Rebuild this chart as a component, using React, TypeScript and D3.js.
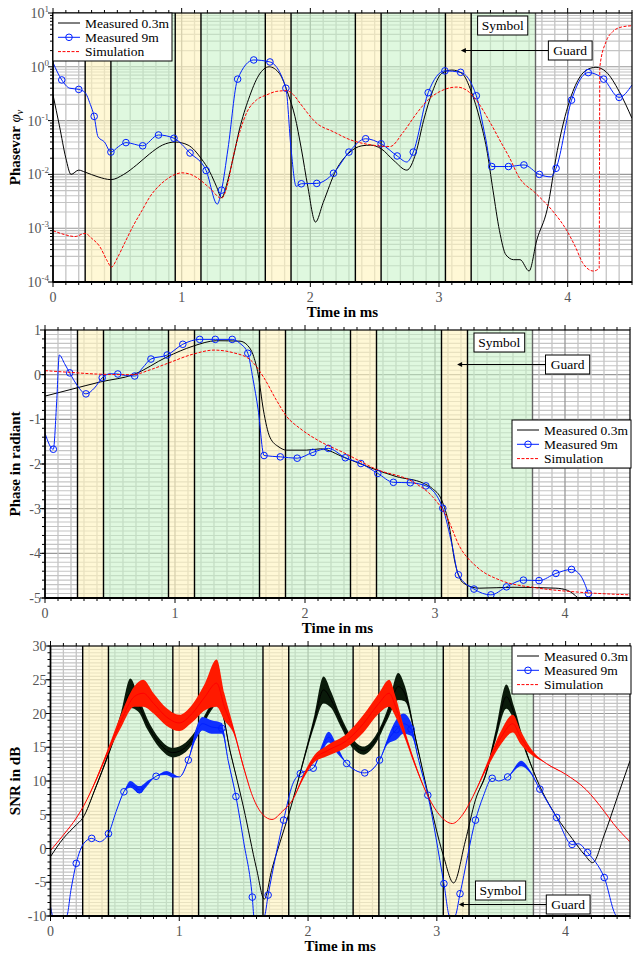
import React from "react";
import * as d3 from "d3";

const W = 633;
const H = 953;
const FONT = "'Liberation Serif', 'Times New Roman', serif";

// guard (yellow) and symbol (green) intervals in ms
const guardIntervals = [[0.25, 0.45], [0.95, 1.15], [1.65, 1.85], [2.35, 2.55], [3.05, 3.25]];
const symbolIntervals = [[0.45, 0.95], [1.15, 1.65], [1.85, 2.35], [2.55, 3.05], [3.25, 3.75]];
const xTicks = [0, 1, 2, 3, 4];
const legendNames = ["Measured 0.3m", "Measured 9m", "Simulation"];

// ---- panel 1: phase variance (log) ----  [t, value]
const pvBlack = [
  [0.0, 0.3], [0.05, 0.08], [0.1, 0.02], [0.14, 0.01], [0.2, 0.012], [0.25, 0.011], [0.35, 0.009],
  [0.45, 0.008], [0.55, 0.01], [0.65, 0.015], [0.75, 0.024], [0.85, 0.035], [0.95, 0.04], [1.05, 0.035],
  [1.15, 0.02], [1.22, 0.011], [1.27, 0.006], [1.31, 0.0037], [1.36, 0.008], [1.4, 0.02], [1.45, 0.07],
  [1.52, 0.25], [1.6, 0.7], [1.68, 1.0], [1.76, 0.75], [1.83, 0.3], [1.88, 0.12], [1.93, 0.03],
  [1.98, 0.006], [2.04, 0.0013], [2.1, 0.003], [2.2, 0.012], [2.3, 0.025], [2.4, 0.034], [2.47, 0.035],
  [2.55, 0.03], [2.65, 0.018], [2.75, 0.012], [2.82, 0.025], [2.88, 0.1], [2.95, 0.35], [3.02, 0.75],
  [3.1, 0.87], [3.18, 0.75], [3.25, 0.35], [3.32, 0.1], [3.37, 0.03], [3.42, 0.005], [3.47, 0.0009],
  [3.52, 0.00032], [3.58, 0.00026], [3.63, 0.00026], [3.7, 0.00016], [3.76, 0.0006], [3.84, 0.0022],
  [3.92, 0.028], [3.98, 0.12], [4.06, 0.45], [4.14, 0.85], [4.22, 0.98], [4.3, 0.8], [4.4, 0.35], [4.5, 0.11],
];
// [t, value, marker]
const pvBlue = [
  [0.0, 1.2, 0], [0.068, 0.57, 1], [0.13, 0.4, 0], [0.2, 0.38, 1], [0.25, 0.33, 0], [0.29, 0.2, 0],
  [0.32, 0.12, 1], [0.35, 0.05, 0], [0.4, 0.04, 0], [0.45, 0.026, 1], [0.51, 0.033, 0], [0.567, 0.039, 1],
  [0.697, 0.034, 1], [0.82, 0.054, 1], [0.94, 0.047, 1], [1.065, 0.025, 1], [1.19, 0.0118, 1],
  [1.277, 0.0028, 0], [1.31, 0.0051, 1], [1.36, 0.03, 0], [1.435, 0.59, 1], [1.56, 1.34, 1],
  [1.686, 1.23, 1], [1.81, 0.4, 1], [1.85, 0.03, 0], [1.89, 0.006, 0], [1.93, 0.0067, 1], [2.05, 0.0068, 1],
  [2.18, 0.0105, 1], [2.3, 0.026, 1], [2.43, 0.046, 1], [2.55, 0.037, 1], [2.675, 0.022, 1], [2.75, 0.017, 0],
  [2.8, 0.026, 1], [2.916, 0.33, 1], [3.046, 0.84, 1], [3.168, 0.79, 1], [3.29, 0.29, 1], [3.36, 0.05, 0],
  [3.41, 0.014, 1], [3.54, 0.014, 1], [3.66, 0.015, 1], [3.78, 0.01, 1], [3.87, 0.009, 0], [3.91, 0.013, 1],
  [4.03, 0.24, 1], [4.16, 0.78, 1], [4.28, 0.59, 1], [4.4, 0.27, 1], [4.5, 0.46, 0],
];
const pvRed = [
  [0.0, 0.0009], [0.1, 0.00075], [0.17, 0.0007], [0.25, 0.0008], [0.3, 0.00065], [0.365, 0.00045],
  [0.42, 0.00025], [0.455, 0.00019], [0.5, 0.00028], [0.56, 0.00055], [0.62, 0.00107], [0.69, 0.0021],
  [0.755, 0.0039], [0.82, 0.006], [0.88, 0.008], [0.95, 0.01], [1.0, 0.0107], [1.07, 0.01], [1.14, 0.008],
  [1.22, 0.0055], [1.31, 0.0036], [1.36, 0.007], [1.4, 0.021], [1.45, 0.06], [1.505, 0.14], [1.58, 0.24],
  [1.66, 0.3], [1.74, 0.35], [1.815, 0.36], [1.87, 0.3], [1.92, 0.21], [2.05, 0.089], [2.18, 0.062],
  [2.31, 0.044], [2.45, 0.036], [2.62, 0.033], [2.72, 0.06], [2.83, 0.14], [2.92, 0.25], [3.01, 0.35],
  [3.14, 0.42], [3.22, 0.36], [3.29, 0.24], [3.4, 0.09], [3.48, 0.04], [3.55, 0.02], [3.62, 0.009],
  [3.75, 0.0045], [3.89, 0.002], [3.99, 0.00093], [4.06, 0.00045], [4.12, 0.00022], [4.2, 0.00016],
  [4.245, 0.00018], [4.25, 1.0], [4.3, 3.0], [4.35, 4.5], [4.42, 5.5], [4.5, 5.8],
];

// ---- panel 2: phase in radiant ----
const phBlack = [
  [0.0, -0.48], [0.2, -0.33], [0.43, -0.16], [0.68, 0.0], [0.94, 0.4], [1.14, 0.64], [1.32, 0.76],
  [1.5, 0.75], [1.56, 0.65], [1.6, 0.45], [1.64, 0.0], [1.68, -0.79], [1.73, -1.4], [1.8, -1.62],
  [1.86, -1.69], [2.01, -1.69], [2.12, -1.66], [2.3, -1.85], [2.5, -2.08], [2.7, -2.28], [2.91, -2.43],
  [2.98, -2.55], [3.05, -2.8], [3.11, -3.4], [3.15, -4.15], [3.22, -4.67], [3.34, -4.78], [3.6, -4.76],
  [3.93, -4.78], [4.02, -4.83], [4.06, -4.9], [4.1, -5.0],
];
const phBlue = [
  [0.0, -1.31, 0], [0.064, -1.67, 1], [0.09, -0.6, 0], [0.11, 0.44, 0], [0.15, 0.25, 0], [0.19, 0.04, 1],
  [0.25, -0.25, 0], [0.315, -0.43, 1], [0.38, -0.3, 0], [0.44, -0.07, 1], [0.5, 0.02, 0], [0.56, 0.015, 1],
  [0.62, -0.02, 0], [0.69, -0.03, 1], [0.75, 0.15, 0], [0.815, 0.35, 1], [0.94, 0.44, 1], [1.06, 0.68, 1],
  [1.19, 0.79, 1], [1.31, 0.79, 1], [1.44, 0.79, 1], [1.5, 0.7, 0], [1.56, 0.48, 1], [1.6, -0.1, 0],
  [1.64, -0.79, 0], [1.685, -1.81, 1], [1.81, -1.84, 1], [1.94, -1.87, 1], [2.06, -1.74, 1],
  [2.18, -1.65, 1], [2.31, -1.86, 1], [2.43, -1.99, 1], [2.56, -2.21, 1], [2.68, -2.41, 1],
  [2.81, -2.42, 1], [2.93, -2.49, 1], [3.06, -2.99, 1], [3.13, -3.8, 0], [3.18, -4.48, 1], [3.3, -4.8, 1],
  [3.43, -4.93, 1], [3.55, -4.75, 1], [3.68, -4.6, 1], [3.8, -4.61, 1], [3.93, -4.45, 1], [4.05, -4.36, 1],
  [4.12, -4.5, 0], [4.18, -4.9, 1],
];
const phRed = [
  [0.0, 0.09], [0.2, 0.05], [0.43, 0.01], [0.68, 0.0], [0.8, 0.1], [0.94, 0.25], [1.14, 0.46], [1.3, 0.55],
  [1.45, 0.49], [1.58, 0.33], [1.68, -0.05], [1.78, -0.57], [1.86, -0.94], [1.96, -1.2], [2.1, -1.47],
  [2.3, -1.75], [2.55, -2.12], [2.83, -2.4], [2.98, -2.73], [3.09, -3.18], [3.19, -3.85], [3.32, -4.3],
  [3.5, -4.6], [3.8, -4.78], [4.11, -4.87], [4.5, -4.93],
];

// ---- panel 3: SNR in dB ----  [t, value, half width of the noise band]
const snrBlack = [
  [0.0, -1.2, 0], [0.1, 1.5, 0], [0.2, 3.5, 0], [0.25, 4.5, 0], [0.35, 9, 0.2], [0.45, 14, 0.3],
  [0.55, 19.5, 0.8], [0.62, 23, 2.2], [0.68, 21.5, 1.2], [0.75, 18.5, 0.8], [0.85, 15.5, 0.7],
  [0.95, 14.2, 0.7], [1.05, 15, 0.7], [1.15, 17.5, 0.6], [1.25, 21, 0.5], [1.3, 22, 0.5], [1.4, 14, 0.2],
  [1.5, 6, 0], [1.6, -3, 0], [1.66, -7.5, 0], [1.72, -3, 0], [1.8, 2, 0], [1.86, 5.7, 0], [1.95, 12, 0.3],
  [2.05, 19, 0.8], [2.12, 23.5, 2], [2.18, 22, 1.2], [2.25, 19, 0.8], [2.35, 15.5, 0.7], [2.43, 14.5, 0.6],
  [2.52, 16, 0.6], [2.62, 20, 0.8], [2.7, 24, 2], [2.75, 23, 1.2], [2.85, 15, 0.3], [2.93, 8.2, 0],
  [3.05, -1, 0], [3.13, -5.1, 0], [3.22, 1, 0], [3.3, 7.2, 0], [3.38, 11, 0.3], [3.46, 17, 0.8],
  [3.54, 22.5, 1.8], [3.6, 20, 1], [3.7, 14, 0.3], [3.8, 9.2, 0], [3.93, 4.7, 0], [4.05, 1.5, 0],
  [4.15, -1, 0], [4.21, -2.1, 0], [4.3, 2, 0], [4.4, 7.5, 0], [4.5, 13, 0],
];
// [t, value, half width, marker]
const snrBlue = [
  [0.0, -8.6, 0, 0], [0.02, -10, 0, 0], [0.125, -10, 0, 0], [0.16, -6, 0, 0], [0.2, -2.2, 0, 1],
  [0.26, 0.8, 0, 0], [0.32, 1.5, 0, 1], [0.38, 1.0, 0, 0], [0.45, 2.2, 0, 1], [0.51, 5.5, 0, 0],
  [0.57, 8.4, 0, 1], [0.62, 9.5, 0.5, 0], [0.69, 8.7, 0.5, 1], [0.76, 9.8, 0.3, 0], [0.82, 10.7, 0, 1],
  [0.9, 11.2, 0.3, 0], [0.95, 10.8, 0.3, 0], [1.0, 10.6, 0, 0], [1.07, 13.1, 0, 1], [1.13, 17, 0.8, 0],
  [1.18, 18.5, 1, 0], [1.25, 18, 1, 0], [1.33, 17.8, 0.8, 1], [1.38, 13, 0, 0], [1.44, 7.7, 0, 1],
  [1.5, 1, 0, 0], [1.567, -7.2, 0, 1], [1.58, -10, 0, 0], [1.66, -10, 0, 0], [1.69, -6.9, 0, 1],
  [1.75, -1, 0, 0], [1.81, 4.2, 0, 1], [1.88, 9.5, 0, 0], [1.94, 11.1, 0, 1], [2.04, 11.9, 0, 1],
  [2.1, 14.5, 0.5, 0], [2.16, 16.5, 0.8, 0], [2.23, 14.5, 0.5, 0], [2.3, 12.6, 0, 1], [2.44, 11.2, 0, 1],
  [2.555, 13.1, 0, 1], [2.62, 16, 0.5, 0], [2.685, 17.6, 1.5, 1], [2.74, 18.5, 1.5, 0], [2.8, 17.7, 1, 1],
  [2.86, 13, 0, 0], [2.93, 7.9, 0, 1], [3.055, -5.2, 0, 1], [3.1, -10, 0, 0], [3.14, -10, 0, 0],
  [3.18, -6.7, 0, 1], [3.3, 4.2, 0, 1], [3.36, 7.7, 0, 0], [3.43, 10.4, 0, 1], [3.48, 10, 0, 0],
  [3.55, 10.6, 0, 1], [3.655, 12.6, 0.4, 0], [3.72, 11.5, 0.2, 0], [3.8, 8.8, 0, 1], [3.93, 4.6, 0, 1],
  [4.05, 0.6, 0, 1], [4.1, 0.7, 0, 0], [4.17, -0.6, 0, 1], [4.3, -4.3, 0, 1], [4.4, -10, 0, 0], [4.5, -10, 0, 0],
];
const snrRed = [
  [0.0, -0.3, 0], [0.1, 2, 0], [0.2, 4.5, 0], [0.26, 6.4, 0], [0.35, 10, 0.2], [0.45, 14.6, 0.4],
  [0.55, 19, 1], [0.65, 22.5, 1.5], [0.72, 23, 2], [0.8, 21.5, 1.5], [0.9, 19.5, 1.3], [1.0, 18.6, 1.2],
  [1.1, 20, 1.3], [1.2, 22.5, 2], [1.29, 24.5, 3.5], [1.35, 21, 2], [1.42, 17.6, 0.5], [1.5, 12, 0.2],
  [1.57, 7.7, 0], [1.65, 5, 0], [1.72, 4.3, 0], [1.8, 5.5, 0], [1.88, 7.2, 0], [1.96, 10.5, 0.3],
  [2.04, 13.1, 0.5], [2.15, 14.5, 0.8], [2.3, 16, 1], [2.43, 18.5, 1.3], [2.55, 21.5, 1.5], [2.63, 23, 2],
  [2.68, 21, 1.5], [2.74, 17.6, 0.7], [2.83, 12.5, 0.3], [2.92, 8.2, 0], [3.02, 5, 0], [3.12, 3.7, 0],
  [3.2, 5, 0], [3.28, 7.7, 0], [3.41, 13.1, 0.5], [3.5, 16.5, 1], [3.59, 18.5, 1.3], [3.65, 16.5, 1],
  [3.72, 14.6, 0.5], [3.85, 12.6, 0], [4.0, 11, 0], [4.16, 8.7, 0], [4.3, 5.5, 0], [4.37, 3.7, 0], [4.5, 1, 0],
];

type Box = { l: number; r: number; t: number; b: number };

const Panel = ({ id, box, y, yGrid, yMajor, yMinor, yTicks, tickText, black, blue, red, band, legend, ann, yTitle }) => {
  const x = d3.scaleLinear().domain([0, 4.5]).range([box.l, box.r]);
  const line = d3.line<number[]>().x((d) => x(d[0])).y((d) => y(d[1])).curve(d3.curveMonotoneX);
  const area = d3
    .area<number[]>()
    .x((d) => x(d[0]))
    .y0((d) => y(d[1] - d[2]))
    .y1((d) => y(d[1] + d[2]))
    .curve(d3.curveMonotoneX);
  const xGrid = d3.range(1, 45);
  const xMinor = d3.range(0, 46);
  const bounds = [...guardIntervals.map((g) => g[0]), ...guardIntervals.map((g) => g[1]), 3.75];
  const markIdx = band ? 3 : 2;
  const ph = box.b - box.t;

  return (
    <g>
      <defs>
        <clipPath id={id}>
          <rect x={box.l} y={box.t - 1} width={box.r - box.l} height={ph + 2} />
        </clipPath>
      </defs>
      <rect x={box.l} y={box.t} width={box.r - box.l} height={ph} fill="#fff" />
      {/* grid */}
      <g>
        {yGrid.map((v, i) => (
          <line key={"gy" + i} x1={box.l} x2={box.r} y1={y(v)} y2={y(v)}
            stroke={yMajor.includes(v) ? "#999" : "#c4c4c4"} strokeWidth={1.1} />
        ))}
        {xGrid.map((i) => (
          <line key={"gx" + i} x1={x(i / 10)} x2={x(i / 10)} y1={box.t} y2={box.b}
            stroke={i % 10 === 0 ? "#999" : "#c4c4c4"} strokeWidth={1.3} />
        ))}
      </g>
      {/* symbol / guard shading */}
      {symbolIntervals.map(([a, b], i) => (
        <rect key={"s" + i} x={x(a)} y={box.t} width={x(b) - x(a)} height={ph} fill="#c4f2c4" fillOpacity={0.55} />
      ))}
      {guardIntervals.map(([a, b], i) => (
        <rect key={"g" + i} x={x(a)} y={box.t} width={x(b) - x(a)} height={ph} fill="#fff3bd" fillOpacity={0.62} />
      ))}
      {bounds.map((t, i) => (
        <line key={"b" + i} x1={x(t)} x2={x(t)} y1={box.t} y2={box.b}
          stroke={t === 3.75 ? "#666" : "#000"} strokeWidth={1.4} />
      ))}
      {/* series */}
      <g clipPath={`url(#${id})`}>
        {band && <path d={area(black)} fill="#0a1a0a" />}
        <path d={line(black)} fill="none" stroke="#000" strokeWidth={1} />
        {band && <path d={area(blue)} fill="#1030ff" />}
        <path d={line(blue)} fill="none" stroke="#0020ff" strokeWidth={1} />
        {blue.filter((d) => d[markIdx]).map((d, i) => (
          <circle key={"m" + i} cx={x(d[0])} cy={y(d[1])} r={3.3} fill="none" stroke="#0020ff" strokeWidth={1} />
        ))}
        {band && <path d={area(red)} fill="#ff1a00" />}
        <path d={line(red)} fill="none" stroke="#ff0000" strokeWidth={1} strokeDasharray={band ? "none" : "3 1.5"} />
      </g>
      {/* frame and ticks */}
      <rect x={box.l} y={box.t} width={box.r - box.l} height={ph} fill="none" stroke="#000" strokeWidth={1.2} />
      <line x1={box.l} x2={box.r} y1={box.b} y2={box.b} stroke="#000" strokeWidth={2} />
      <line x1={box.l} x2={box.l} y1={box.t} y2={box.b} stroke="#000" strokeWidth={1.6} />
      {xMinor.map((i) => {
        const len = i % 10 === 0 ? 5 : 3;
        return (
          <g key={"xt" + i}>
            <line x1={x(i / 10)} x2={x(i / 10)} y1={box.b} y2={box.b + len} stroke="#000" strokeWidth={1} />
            <line x1={x(i / 10)} x2={x(i / 10)} y1={box.t} y2={box.t - len} stroke="#000" strokeWidth={1} />
          </g>
        );
      })}
      {yMinor.map((v, i) => (
        <line key={"ym" + i} x1={box.l} x2={box.l - 3} y1={y(v)} y2={y(v)} stroke="#000" strokeWidth={1} />
      ))}
      {yTicks.map((v, i) => (
        <g key={"yt" + i}>
          <line x1={box.l} x2={box.l - 5} y1={y(v)} y2={y(v)} stroke="#000" strokeWidth={1} />
          <text x={box.l - 4} y={y(v) + 5} textAnchor="end" fontSize={14} fill="#555">
            {tickText(v)}
          </text>
        </g>
      ))}
      {xTicks.map((t) => (
        <text key={"xl" + t} x={x(t)} y={box.b + 20} textAnchor="middle" fontSize={14} fill="#555">
          {t}
        </text>
      ))}
      <text x={(box.l + box.r) / 2} y={box.b + 35} textAnchor="middle" fontSize={15} fontWeight="bold">
        Time in ms
      </text>
      <text transform={`translate(20,${(box.t + box.b) / 2}) rotate(-90)`} textAnchor="middle" fontSize={15} fontWeight="bold">
        {yTitle}
      </text>
      {/* legend */}
      <g transform={`translate(${legend.x},${legend.y})`}>
        <rect width={119} height={48} fill="#fff" stroke="#000" strokeWidth={1} />
        {legendNames.map((n, i) => (
          <g key={n} transform={`translate(0,${10 + i * 14.3})`}>
            <line x1={5} x2={27} y1={0} y2={0}
              stroke={i === 0 ? "#000" : i === 1 ? "#0020ff" : "#ff0000"}
              strokeWidth={1} strokeDasharray={i === 2 ? "3 1.5" : "none"} />
            {i === 1 && <circle cx={16} cy={0} r={3.3} fill="none" stroke="#0020ff" />}
            <text x={32} y={4.5} fontSize={13.5}>{n}</text>
          </g>
        ))}
      </g>
      {/* Symbol / Guard annotation */}
      <g>
        <rect x={x(3.3)} y={ann.symY} width={x(3.69) - x(3.3)} height={19} fill="#fff" stroke="#000" strokeWidth={1} />
        <text x={(x(3.3) + x(3.69)) / 2} y={ann.symY + 14} textAnchor="middle" fontSize={13.5}>Symbol</text>
        <line x1={x(3.85)} x2={x(3.17) + 3} y1={ann.guardY + 9.5} y2={ann.guardY + 9.5} stroke="#000" strokeWidth={1} />
        <path d={`M${x(3.17)},${ann.guardY + 9.5} l5,-2.5 l0,5 z`} fill="#000" />
        <rect x={x(3.85)} y={ann.guardY} width={x(4.19) - x(3.85)} height={19} fill="#fff" stroke="#000" strokeWidth={1} />
        <text x={(x(3.85) + x(4.19)) / 2} y={ann.guardY + 14} textAnchor="middle" fontSize={13.5}>Guard</text>
      </g>
    </g>
  );
};

const App = () => {
  const pvBox: Box = { l: 53, r: 632, t: 13, b: 282 };
  const phBox: Box = { l: 45, r: 630, t: 330, b: 598 };
  const snrBox: Box = { l: 50.5, r: 630, t: 646, b: 916 };

  const yPv = d3.scaleLog().domain([1e-4, 10]).range([pvBox.b, pvBox.t]);
  const yPh = d3.scaleLinear().domain([-5, 1]).range([phBox.b, phBox.t]);
  const ySnr = d3.scaleLinear().domain([-10, 30]).range([snrBox.b, snrBox.t]);

  const pvDecades = [-4, -3, -2, -1, 0, 1].map((e) => Math.pow(10, e));
  const pvGrid = d3.range(-4, 1).flatMap((e) => d3.range(1, 10).map((k) => k * Math.pow(10, e)));
  const pvMinor = pvGrid.filter((v, i) => i % 9 !== 0);

  const phGrid = d3.range(-49, 10).map((i) => i / 10);
  const phMajor = [-4, -3, -2, -1, 0];
  const phTicks = [-5, -4, -3, -2, -1, 0, 1];
  const phMinor = d3.range(-25, 5).map((i) => i / 5);

  const snrGrid = d3.range(-19, 60).map((i) => i / 2);
  const snrTicks = d3.range(-10, 31, 5);
  const snrMinor = d3.range(-10, 31);

  return (
    <svg width={W} height={H} style={{ position: "absolute", left: 0, top: 0, fontFamily: FONT }}>
      <rect width={W} height={H} fill="#fff" />
      <Panel
        id="c1" box={pvBox} y={yPv} yGrid={pvGrid.concat(pvGrid.length ? [] : [])} yMajor={pvDecades}
        yMinor={pvMinor} yTicks={pvDecades}
        tickText={(v) => {
          const e = Math.round(Math.log10(v));
          return (
            <>
              10<tspan dy={-6} fontSize={9}>{e}</tspan>
            </>
          );
        }}
        black={pvBlack} blue={pvBlue} red={pvRed} band={false}
        legend={{ x: 53, y: 13 }} ann={{ symY: 16, guardY: 41 }}
        yTitle={<>Phasevar <tspan fontWeight="normal" fontStyle="italic">φ</tspan><tspan fontWeight="normal" fontStyle="italic" fontSize={10} dy={3}>v</tspan></>}
      />
      <Panel
        id="c2" box={phBox} y={yPh} yGrid={phGrid} yMajor={phMajor} yMinor={phMinor} yTicks={phTicks}
        tickText={(v) => String(v)}
        black={phBlack} blue={phBlue} red={phRed} band={false}
        legend={{ x: 512, y: 420 }} ann={{ symY: 333, guardY: 355 }}
        yTitle="Phase in radiant"
      />
      <Panel
        id="c3" box={snrBox} y={ySnr} yGrid={snrGrid} yMajor={[-5, 0, 5, 10, 15, 20, 25]} yMinor={snrMinor}
        yTicks={snrTicks} tickText={(v) => String(v)}
        black={snrBlack} blue={snrBlue} red={snrRed} band={true}
        legend={{ x: 512, y: 646 }} ann={{ symY: 881, guardY: 895 }}
        yTitle="SNR in dB"
      />
    </svg>
  );
};

export default App;
